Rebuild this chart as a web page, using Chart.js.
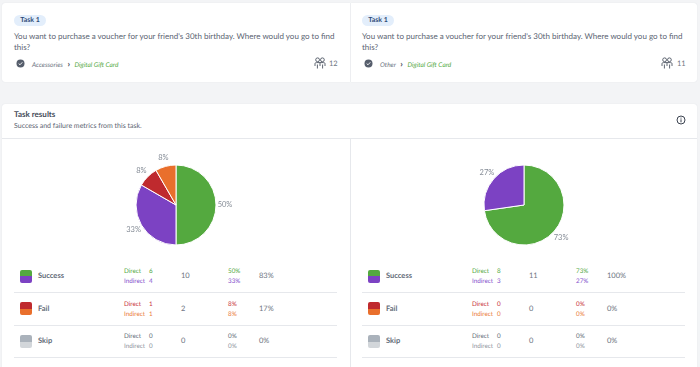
<!DOCTYPE html>
<html>
<head>
<meta charset="utf-8">
<script src="https://cdn.jsdelivr.net/npm/chart.js@4"></script>
<style>
  html, body { margin: 0; padding: 0; }
  body { width: 700px; height: 367px; overflow: hidden; background: #f3f4f6; position: relative; font-family: Lato, sans-serif; color: #5b6472; text-rendering: geometricPrecision; }
  .box { position: absolute; background: #fff; box-shadow: 0 0 1px #d4d8de; }
  .abs { position: absolute; white-space: nowrap; }
  .line { position: absolute; background: #e6e8ec; height: 1px; }
  canvas { position: absolute; }
  .pill { background: #e3eefb; color: #2f4a78; font-size: 7px; font-weight: 700; border-radius: 6px; width: 32px; height: 11px; line-height: 11px; text-align: center; }
  .question { font-size: 8px; line-height: 11.5px; width: 325px; white-space: normal; }
  .path { font-size: 6.5px; font-style: italic; line-height: 9px; }
  .name { font-size: 7.5px; font-weight: 700; color: #636b78; line-height: 10px; }
  .small { font-size: 6.3px; line-height: 9px; }
  .num { font-size: 7.5px; line-height: 10px; color: #6f7783; }
</style>
</head>
<body>
<div class="box" style="left:2px;top:3px;width:348px;height:79px;border-radius:3px 0 0 3px"></div>
<div class="box" style="left:351px;top:3px;width:346px;height:79px;border-radius:0 3px 3px 0"></div>
<div class="box" style="left:2px;top:104px;width:695px;height:270px;border-radius:3px"></div>
<div class="line" style="left:2px;top:138px;width:695px"></div>
<div class="line" style="left:350px;top:139px;width:1px;height:228px"></div>
<div class="abs" style="left:14px;top:109px;font-size:8px;font-weight:700;color:#444c59;line-height:11px">Task results</div>
<div class="abs" style="left:14px;top:121px;font-size:7px;line-height:11px">Success and failure metrics from this task.</div>
<svg class="abs" style="left:676px;top:115px" width="10" height="10" viewBox="0 0 10 10"><circle cx="5" cy="5" r="4" fill="none" stroke="#3c4350" stroke-width="1"/><rect x="4.5" y="4.3" width="1" height="3" fill="#3c4350"/><rect x="4.5" y="2.6" width="1" height="1" fill="#3c4350"/></svg>

<canvas id="pieLeft" width="160" height="110" style="left:96px;top:150px;width:160px;height:110px"></canvas>
<canvas id="pieRight" width="160" height="110" style="left:444px;top:150px;width:160px;height:110px"></canvas>

<script>
// Textos das tarefas
const taskLabel = 'Task 1';
const taskQuestion = "You want to purchase a voucher for your friend's 30th birthday. Where would you go to find this?";
const taskPaths = ['Accessories', 'Other'];
const taskTarget = 'Digital Gift Card';
const taskUsers = [12, 11];

// Dados dos gráficos
const sliceNames = ['Direct success', 'Indirect success', 'Direct fail', 'Indirect fail'];
const sliceColors = ['#54a93f', '#7c42c3', '#bf2a2e', '#e96f2c'];
const leftCounts = [6, 4, 1, 1];
const rightCounts = [8, 3, 0, 0];
const leftLabels = ['50%', '33%', '8%', '8%'];
const rightLabels = ['73%', '27%', '0%', '0%'];

// Linhas da tabela
const rowNames = ['Success', 'Fail', 'Skip'];
const leftDirect = [6, 1, 0];
const leftIndirect = [4, 1, 0];
const leftTotals = [10, 2, 0];
const leftDirectPct = ['50%', '8%', '0%'];
const leftIndirectPct = ['33%', '8%', '0%'];
const leftRates = ['83%', '17%', '0%'];
const rightDirect = [8, 0, 0];
const rightIndirect = [3, 0, 0];
const rightTotals = [11, 0, 0];
const rightDirectPct = ['73%', '0%', '0%'];
const rightIndirectPct = ['27%', '0%', '0%'];
const rightRates = ['100%', '0%', '0%'];

const swatchTop = ['#54a93f', '#bf2a2e', '#aab2bb'];
const swatchBottom = ['#7c42c3', '#e96f2c', '#d2d6da'];
const directColors = ['#54a93f', '#c8343b', '#656d79'];
const indirectColors = ['#8450cc', '#ea7a3a', '#8f96a0'];

function addDiv(className, left, top, html, color) {
    const el = document.createElement('div');
    el.className = 'abs ' + className;
    el.style.left = left + 'px';
    el.style.top = top + 'px';
    el.innerHTML = html;
    if (color) el.style.color = color;
    document.body.appendChild(el);
    return el;
}

function addTaskCard(index, dx) {
    addDiv('pill', 14 + dx, 15, taskLabel);
    addDiv('question', 14 + dx, 30.5, taskQuestion);
    addDiv('', 16 + dx, 59, '<svg width="9" height="9" viewBox="0 0 9 9" style="display:block"><circle cx="4.5" cy="4.5" r="4" fill="#565e6c"/><path d="M2.7 4.6 L4 5.8 L6.3 3.3" fill="none" stroke="#fff" stroke-width="0.9"/></svg>');
    const path = addDiv('path', 32 + dx, 59, taskPaths[index] +
        ' <span style="font-style:normal;font-weight:700;font-size:9px;line-height:9px;margin:0 3px;color:#4d5562">&#8250;</span> ' +
        '<span style="color:#54a93f">' + taskTarget + '</span>');
    path.style.color = '#6b7380';
    const iconX = index === 0 ? 314 : 661 - dx;
    addDiv('', iconX + dx, 57, '<svg width="12" height="12" viewBox="0 0 12 12" style="display:block" fill="none" stroke="#4d5562" stroke-width="0.9"><circle cx="3.6" cy="2.8" r="1.9"/><circle cx="8.4" cy="2.8" r="1.9"/><path d="M1 9 V6.6 Q1 5.6 2.6 5.6 H9.4 Q11 5.6 11 6.6 V9 M3.4 11.5 V7.5 M8.6 11.5 V7.5 M6 5.6 V9"/></svg>');
    addDiv('num', (index === 0 ? 329 : 677 - dx) + dx, 58.5, String(taskUsers[index]));
}

function addRows(dx, direct, indirect, totals, directPct, indirectPct, rates) {
    rowNames.forEach((name, i) => {
        const y = 270 + i * 32.5;
        const swatch = addDiv('', 20 + dx, y - 0.5, '');
        swatch.style.cssText += 'width:12px;height:13px;border-radius:2px;overflow:hidden;background:linear-gradient(' +
            swatchTop[i] + ' 50%,' + swatchBottom[i] + ' 50%)';
        addDiv('name', 38 + dx, y + 1, name);
        addDiv('small', 124 + dx, y - 3, 'Direct', directColors[i]);
        addDiv('small', 124 + dx, y + 7, 'Indirect', indirectColors[i]);
        addDiv('small', 149 + dx, y - 3, String(direct[i]), directColors[i]);
        addDiv('small', 149 + dx, y + 7, String(indirect[i]), indirectColors[i]);
        addDiv('num', 181 + dx, y + 1, String(totals[i]));
        addDiv('small', 228 + dx, y - 3, directPct[i], directColors[i]);
        addDiv('small', 228 + dx, y + 7, indirectPct[i], indirectColors[i]);
        addDiv('num', 259 + dx, y + 1, rates[i]);
        const line = addDiv('line', 14 + dx, 292 + i * 32.5, '');
        line.style.width = '323px';
    });
}

// Rótulos fora da pizza
const outsideLabels = {
    id: 'outsideLabels',
    afterDatasetsDraw(chart, args, opts) {
        const ctx = chart.ctx;
        ctx.save();
        ctx.font = '7.5px Lato, sans-serif';
        ctx.fillStyle = '#858c96';
        ctx.textAlign = 'center';
        ctx.textBaseline = 'middle';
        chart.getDatasetMeta(0).data.forEach((arc, i) => {
            if (!chart.data.datasets[0].data[i]) return;
            const p = arc.getProps(['x', 'y', 'startAngle', 'endAngle', 'outerRadius'], true);
            const mid = (p.startAngle + p.endAngle) / 2;
            const r = p.outerRadius + opts.offset;
            ctx.fillText(opts.labels[i], p.x + Math.cos(mid) * r, p.y + Math.sin(mid) * r);
        });
        ctx.restore();
    }
};

function makePie(id, counts, labels) {
    return new Chart(document.getElementById(id), {
        type: 'pie',
        data: {
            labels: sliceNames,
            datasets: [{
                data: counts,
                backgroundColor: sliceColors,
                borderColor: '#ffffff',
                borderWidth: 1,
                radius: 40
            }]
        },
        options: {
            responsive: false,
            animation: false,
            layout: { padding: 0 },
            plugins: {
                legend: { display: false },
                tooltip: { enabled: false },
                outsideLabels: { labels: labels, offset: 9 }
            }
        },
        plugins: [outsideLabels]
    });
}

addTaskCard(0, 0);
addTaskCard(1, 348);
addRows(0, leftDirect, leftIndirect, leftTotals, leftDirectPct, leftIndirectPct, leftRates);
addRows(348, rightDirect, rightIndirect, rightTotals, rightDirectPct, rightIndirectPct, rightRates);
makePie('pieLeft', leftCounts, leftLabels);
makePie('pieRight', rightCounts, rightLabels);
</script>
</body>
</html>
